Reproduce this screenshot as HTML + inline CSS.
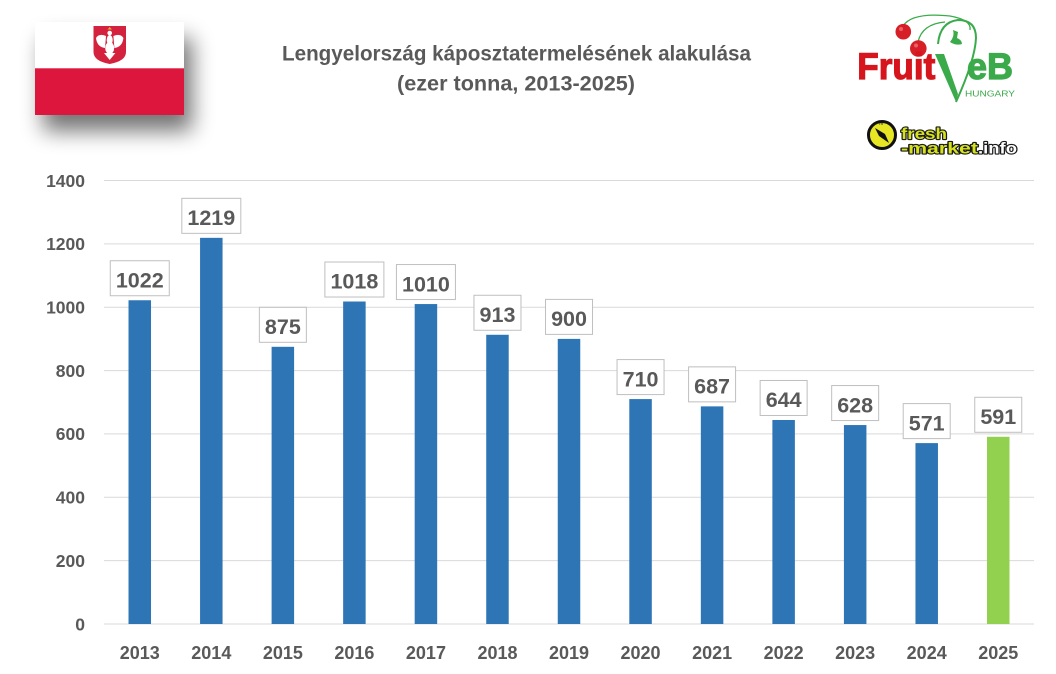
<!DOCTYPE html>
<html><head><meta charset="utf-8"><style>
html,body{margin:0;padding:0;background:#fff;}
svg{display:block;}
</style></head><body>
<svg width="1056" height="674" viewBox="0 0 1056 674" xmlns="http://www.w3.org/2000/svg" font-family="'Liberation Sans', Arial, sans-serif">
<defs>
<filter id="sh" x="-50%" y="-50%" width="200%" height="220%">
<feGaussianBlur in="SourceAlpha" stdDeviation="11"/>
<feOffset dx="8" dy="16" result="b"/>
<feComponentTransfer><feFuncA type="linear" slope="0.55"/></feComponentTransfer>
<feMerge><feMergeNode/><feMergeNode in="SourceGraphic"/></feMerge>
</filter>
</defs>
<rect width="1056" height="674" fill="#fff"/>

<!-- Flag -->
<g filter="url(#sh)">
<rect x="35" y="22" width="149" height="93" fill="#fff"/>
<rect x="35" y="68.3" width="149" height="46.7" fill="#dc143c"/>
</g>
<path d="M93.5 26 H126 V52 Q126 61 109.7 64 Q93.5 61 93.5 52 Z" fill="#d4213d"/>
<g fill="#fff">
<ellipse cx="109.7" cy="40" rx="3" ry="5"/>
<path d="M106 36 Q99 33 96 38 Q97 47 105 48 Z"/>
<path d="M113.4 36 Q120.4 33 123.4 38 Q122.4 47 114.4 48 Z"/>
<ellipse cx="109.7" cy="48" rx="4.5" ry="6"/>
<path d="M104 53 L109.7 60 L115.4 53 Z"/>
<circle cx="109.7" cy="33" r="2.3"/>
</g>
<path d="M107.5 29.5 L109.7 27 L111.9 29.5 Z" fill="#f0b030"/>

<!-- Title -->
<g fill="#595959" font-weight="bold" font-size="21" text-anchor="middle">
<text x="516.5" y="60.7" textLength="469" lengthAdjust="spacingAndGlyphs">Lengyelország káposztatermelésének alakulása</text>
<text x="516" y="90.7" textLength="238" lengthAdjust="spacingAndGlyphs">(ezer tonna, 2013-2025)</text>
</g>

<!-- FruitVeB logo -->
<g>
<path d="M903 26 Q912 12 950 16 Q972 20 970 30" fill="none" stroke="#3aaa4a" stroke-width="1.3"/>
<path d="M918 42 Q922 24 945 22" fill="none" stroke="#3aaa4a" stroke-width="1.3"/>
<circle cx="903.3" cy="31.7" r="7.8" fill="#d61f26"/>
<circle cx="918.3" cy="48.5" r="8.3" fill="#d61f26"/>
<circle cx="901" cy="29" r="2" fill="#f08080" opacity="0.7"/>
<circle cx="916" cy="45.5" r="2" fill="#f08080" opacity="0.7"/>
<path d="M938 44 Q940 22 958 20 Q976 20 976 38 Q975 60 956 102" fill="none" stroke="#3aaa4a" stroke-width="2"/>
<path d="M935 54 L944 54 L958 94 L956 102 Z" fill="#3aaa4a"/>
<path d="M950 42 Q955 36 953 30 L958 32 L957 38 Q962 40 962 44 Q956 46 950 42 Z" fill="#3aaa4a"/>
<text x="857.3" y="79" font-size="37" font-weight="bold" fill="#d6151c" stroke="#d6151c" stroke-width="1.2" textLength="78" lengthAdjust="spacingAndGlyphs">Fruit</text>
<text x="967" y="79" font-size="37" font-weight="bold" fill="#3aaa4a" stroke="#3aaa4a" stroke-width="1.2" textLength="46" lengthAdjust="spacingAndGlyphs">eB</text>
<text x="965" y="96.5" font-size="8.5" fill="#3aaa4a" textLength="50" lengthAdjust="spacingAndGlyphs">HUNGARY</text>
</g>

<!-- fresh-market.info logo -->
<g>
<circle cx="882" cy="135" r="13.5" fill="#e6e625" stroke="#111" stroke-width="3"/>
<path d="M875 128 L885 134 L889 143 L879 136 Z" fill="#111"/>
<text x="881" y="125" font-size="5" fill="#111" text-anchor="middle">N</text>
<g font-weight="bold" stroke="#1a1a1a" stroke-width="2.2" paint-order="stroke" stroke-linejoin="round">
<text x="901" y="139" font-size="16" fill="#d6e21c" textLength="46" lengthAdjust="spacingAndGlyphs">fresh</text>
<text x="901" y="153.3" font-size="16" fill="#d6e21c" textLength="77" lengthAdjust="spacingAndGlyphs">-market</text>
<text x="978" y="153.3" font-size="16" fill="#fff" textLength="39" lengthAdjust="spacingAndGlyphs">.info</text>
</g>
</g>

<!-- Gridlines -->
<g stroke="#d9d9d9" stroke-width="1">
<line x1="104" x2="1034" y1="180.5" y2="180.5"/>
<line x1="104" x2="1034" y1="243.86" y2="243.86"/>
<line x1="104" x2="1034" y1="307.21" y2="307.21"/>
<line x1="104" x2="1034" y1="370.57" y2="370.57"/>
<line x1="104" x2="1034" y1="433.93" y2="433.93"/>
<line x1="104" x2="1034" y1="497.29" y2="497.29"/>
<line x1="104" x2="1034" y1="560.64" y2="560.64"/>
<line x1="104" x2="1034" y1="624" y2="624"/>
</g>

<!-- Y labels -->
<g fill="#595959" font-weight="bold" font-size="17.5" text-anchor="end">
<text x="85" y="186.8">1400</text>
<text x="85" y="250.2">1200</text>
<text x="85" y="313.5">1000</text>
<text x="85" y="376.9">800</text>
<text x="85" y="440.2">600</text>
<text x="85" y="503.6">400</text>
<text x="85" y="566.9">200</text>
<text x="85" y="630.3">0</text>
</g>

<!-- Bars -->
<g fill="#2e75b6">
<rect x="128.52" y="300.25" width="22.5" height="323.75"/>
<rect x="200.06" y="237.84" width="22.5" height="386.16"/>
<rect x="271.6" y="346.81" width="22.5" height="277.19"/>
<rect x="343.14" y="301.51" width="22.5" height="322.49"/>
<rect x="414.68" y="304.05" width="22.5" height="319.95"/>
<rect x="486.22" y="334.77" width="22.5" height="289.23"/>
<rect x="557.76" y="338.89" width="22.5" height="285.11"/>
<rect x="629.3" y="399.08" width="22.5" height="224.92"/>
<rect x="700.84" y="406.37" width="22.5" height="217.63"/>
<rect x="772.38" y="419.99" width="22.5" height="204.01"/>
<rect x="843.92" y="425.06" width="22.5" height="198.94"/>
<rect x="915.46" y="443.11" width="22.5" height="180.89"/>
</g>
<rect x="987" y="436.78" width="22.5" height="187.22" fill="#92d050"/>

<!-- Data label boxes -->
<g fill="#fff" stroke="#bfbfbf" stroke-width="1">
<rect x="110.27" y="260.75" width="59" height="35"/>
<rect x="181.81" y="198.34" width="59" height="35"/>
<rect x="259.35" y="307.31" width="47" height="35"/>
<rect x="324.89" y="262.01" width="59" height="35"/>
<rect x="396.43" y="264.55" width="59" height="35"/>
<rect x="473.97" y="295.27" width="47" height="35"/>
<rect x="545.51" y="299.39" width="47" height="35"/>
<rect x="617.05" y="359.58" width="47" height="35"/>
<rect x="688.59" y="366.87" width="47" height="35"/>
<rect x="760.13" y="380.49" width="47" height="35"/>
<rect x="831.67" y="385.56" width="47" height="35"/>
<rect x="903.21" y="403.61" width="47" height="35"/>
<rect x="974.75" y="397.28" width="47" height="35"/>
</g>
<g fill="#595959" font-weight="bold" font-size="21.5" text-anchor="middle">
<text x="139.77" y="287.45">1022</text>
<text x="211.31" y="225.04">1219</text>
<text x="282.85" y="334.01">875</text>
<text x="354.39" y="288.71">1018</text>
<text x="425.93" y="291.25">1010</text>
<text x="497.47" y="321.97">913</text>
<text x="569.01" y="326.09">900</text>
<text x="640.55" y="386.28">710</text>
<text x="712.09" y="393.57">687</text>
<text x="783.63" y="407.19">644</text>
<text x="855.17" y="412.26">628</text>
<text x="926.71" y="430.31">571</text>
<text x="998.25" y="423.98">591</text>
</g>

<!-- X labels -->
<g fill="#595959" font-weight="bold" font-size="18" text-anchor="middle">
<text x="139.77" y="659">2013</text>
<text x="211.31" y="659">2014</text>
<text x="282.85" y="659">2015</text>
<text x="354.39" y="659">2016</text>
<text x="425.93" y="659">2017</text>
<text x="497.47" y="659">2018</text>
<text x="569.01" y="659">2019</text>
<text x="640.55" y="659">2020</text>
<text x="712.09" y="659">2021</text>
<text x="783.63" y="659">2022</text>
<text x="855.17" y="659">2023</text>
<text x="926.71" y="659">2024</text>
<text x="998.25" y="659">2025</text>
</g>
</svg>
</body></html>
